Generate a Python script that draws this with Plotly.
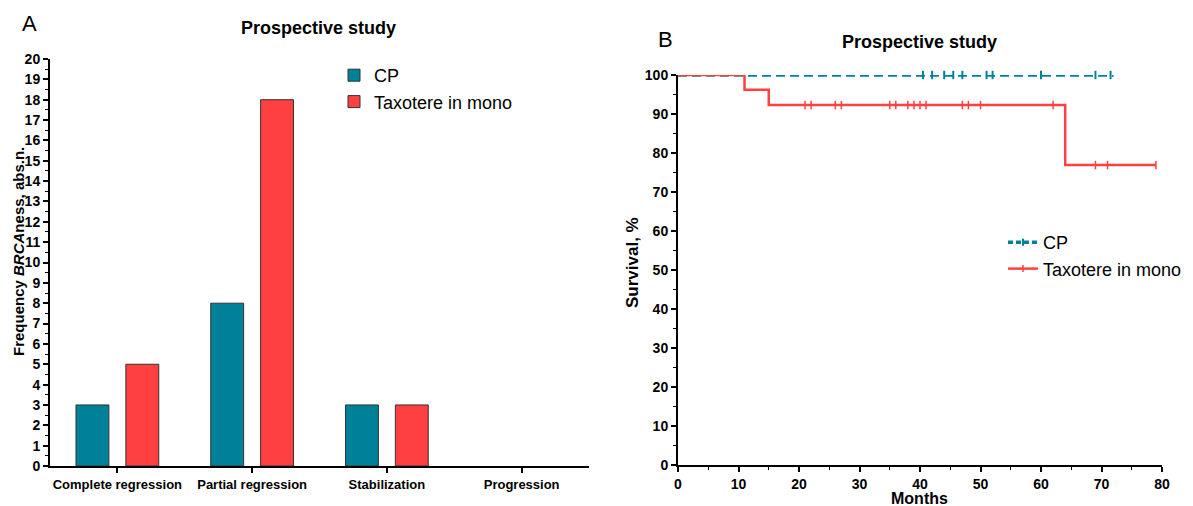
import plotly.graph_objects as go

# ---- Panel A data ----
categories = ["Complete regression", "Partial regression", "Stabilization", "Progression"]
cp_counts = [3, 8, 3, 0]
taxotere_counts = [5, 18, 3, 0]

# ---- Panel B data (Kaplan-Meier) ----
cp_times = [0, 72]
cp_surv = [100, 100]
cp_cens_t = [40.5, 42, 44, 45.5, 47, 51, 52, 60, 69, 71.5]
cp_cens_s = [100] * len(cp_cens_t)

tx_times = [0, 11, 15, 64, 79]
tx_surv = [100, 96.2, 92.3, 76.9, 76.9]
tx_cens_t = [21, 22, 26, 27, 35, 36, 38, 39, 40, 41, 47, 48, 50, 62, 69, 71, 79]
tx_cens_s = [92.3] * 14 + [76.9] * 3

TEAL = "#00819A"
RED = "#FF4040"
FONT = "Liberation Sans, Arial, sans-serif"
W, H = 1193, 506

def px(x):
    return x / W

def py(y):
    return 1 - y / H

fig = go.Figure()

fig.add_trace(go.Bar(x=categories, y=cp_counts, name="CP",
                     marker=dict(color=TEAL, line=dict(color="#333333", width=[1 if v > 0 else 0 for v in cp_counts])),
                     xaxis="x", yaxis="y", legend="legend"))
fig.add_trace(go.Bar(x=categories, y=taxotere_counts, name="Taxotere in mono",
                     marker=dict(color=RED, line=dict(color="#333333", width=[1 if v > 0 else 0 for v in taxotere_counts])),
                     xaxis="x", yaxis="y", legend="legend"))

# KM curves
fig.add_trace(go.Scatter(x=cp_times, y=cp_surv, mode="lines", line=dict(color=TEAL, width=3.5, dash="9px,5px", shape="hv"),
                         xaxis="x2", yaxis="y2", showlegend=False, cliponaxis=False, legend="legend2"))
fig.add_trace(go.Scatter(x=cp_cens_t, y=cp_cens_s, mode="markers", marker=dict(symbol="line-ns", size=6, line=dict(color=TEAL, width=2)),
                         xaxis="x2", yaxis="y2", showlegend=False, cliponaxis=False, legend="legend2"))
fig.add_trace(go.Scatter(x=tx_times, y=tx_surv, mode="lines", line=dict(color=RED, width=2.5, shape="hv"),
                         xaxis="x2", yaxis="y2", showlegend=False, cliponaxis=False, legend="legend2"))
fig.add_trace(go.Scatter(x=tx_cens_t, y=tx_cens_s, mode="markers", marker=dict(symbol="line-ns", size=6, line=dict(color=RED, width=1.5)),
                         xaxis="x2", yaxis="y2", showlegend=False, cliponaxis=False, legend="legend2"))
# legend entries for panel B
fig.add_trace(go.Scatter(x=[None], y=[None], mode="lines+markers", name="CP",
                         line=dict(color=TEAL, width=3.5, dash="5px,3px"),
                         marker=dict(symbol="line-ns", size=5, line=dict(color=TEAL, width=2)),
                         xaxis="x2", yaxis="y2", legend="legend2"))
fig.add_trace(go.Scatter(x=[None], y=[None], mode="lines+markers", name="Taxotere in mono",
                         line=dict(color=RED, width=2.5),
                         marker=dict(symbol="line-ns", size=5, line=dict(color=RED, width=1.5)),
                         xaxis="x2", yaxis="y2", legend="legend2"))

tickfont = dict(family=FONT, size=14, color="black", weight="bold")
axis_common = dict(showline=True, linecolor="black", linewidth=2, ticks="outside", ticklen=5, tickwidth=1.5,
                   tickcolor="black", showgrid=False, zeroline=False, tickfont=tickfont, fixedrange=True,
                   automargin=False)

fig.update_layout(
    width=W, height=H,
    margin=dict(l=0, r=0, t=0, b=0, autoexpand=False),
    paper_bgcolor="white", plot_bgcolor="white",
    barmode="group", bargap=0.26, bargroupgap=0.34,
    font=dict(family=FONT, color="black"),
    xaxis=dict(domain=[px(50), px(589)], anchor="y", type="category", range=[-0.5, 3.5],
               **{**axis_common, "tickfont": dict(family=FONT, size=13, color="black", weight="bold")}),
    yaxis=dict(domain=[py(466), py(59)], anchor="x", range=[0, 20], dtick=1, tick0=0,
               minor=dict(dtick=0.5, ticks="outside", ticklen=3, tickcolor="black", tickwidth=1),
               **axis_common),
    xaxis2=dict(domain=[px(678), px(1162)], anchor="y2", range=[0, 80], dtick=10, tick0=0,
                minor=dict(dtick=5, ticks="outside", ticklen=3, tickcolor="black", tickwidth=1),
                **axis_common),
    yaxis2=dict(domain=[py(465), py(75)], anchor="x2", range=[0, 100], dtick=10, tick0=0,
                minor=dict(dtick=5, ticks="outside", ticklen=3, tickcolor="black", tickwidth=1),
                **axis_common),
    legend=dict(x=px(334), y=py(57), xanchor="left", yanchor="top", bgcolor="rgba(0,0,0,0)",
                font=dict(family=FONT, size=18, color="black"), itemwidth=30, tracegroupgap=4),
    legend2=dict(x=px(1003), y=py(224), xanchor="left", yanchor="top", bgcolor="rgba(0,0,0,0)",
                 font=dict(family=FONT, size=18, color="black"), itemwidth=30),
    showlegend=True,
)

def ann(text, x, y, size, bold=False, angle=0):
    fig.add_annotation(text=text, x=px(x), y=py(y), xref="paper", yref="paper", showarrow=False,
                       xanchor="center", yanchor="middle", textangle=angle,
                       font=dict(family=FONT, size=size, color="black", weight="bold" if bold else "normal"))

ann("A", 30, 24, 22)
ann("Prospective study", 318, 28, 18, bold=True)
ann("B", 665, 40, 22)
ann("Prospective study", 920, 42, 18, bold=True)
ann("Frequency <i>BRCA</i>ness, abs.n.", 18, 252, 15, bold=True, angle=-90)
ann("Survival, %", 632, 263, 17, bold=True, angle=-90)
ann("Months", 920, 498, 16, bold=True)

fig.write_html("out.html")
